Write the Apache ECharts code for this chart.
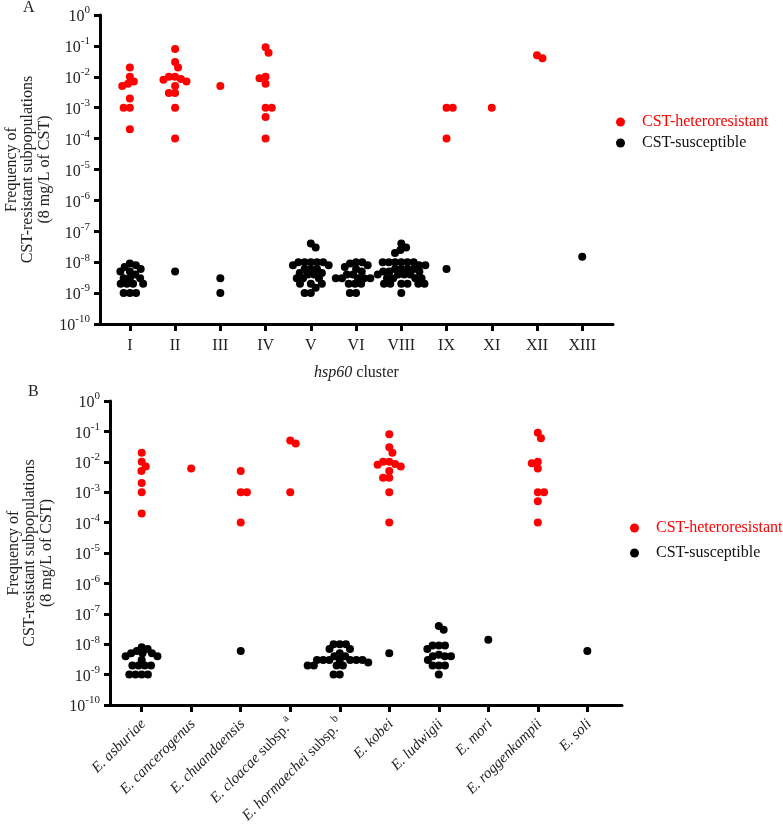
<!DOCTYPE html>
<html><head><meta charset="utf-8">
<script src="https://cdn.jsdelivr.net/npm/echarts@6/dist/echarts.min.js"></script>
<style>html,body{margin:0;padding:0;background:#fff}#c{width:783px;height:826px}</style>
</head><body><div id="c"></div>
<script>
// ---------- DATA ----------
const catsA = ['I','II','III','IV','V','VI','VIII','IX','XI','XII','XIII'];
const heteroA = [
  [0.02, 0.01, 0.007, 0.006, 0.005, 0.002, 0.001, 0.001, 0.0002],
  [0.08, 0.03, 0.02, 0.01, 0.01, 0.0085, 0.008, 0.007, 0.005, 0.003, 0.003, 0.001, 0.0001],
  [0.005],
  [0.09, 0.06, 0.01, 0.009, 0.006, 0.001, 0.001, 0.0005, 0.0001],
  [], [], [],
  [0.001, 0.001, 0.0001],
  [0.001],
  [0.05, 0.04],
  []
];
const susA = [
  [9e-9, 8e-9, 7e-9, 6e-9, 5e-9, 5e-9, 4e-9, 3e-9, 3e-9, 3e-9, 2e-9, 2e-9, 2e-9, 2e-9, 1e-9, 1e-9, 1e-9],
  [5e-9],
  [3e-9, 1e-9],
  [],
  [4e-8, 3e-8, 1e-8, 1e-8, 1e-8, 1e-8, 1e-8, 8e-9, 8e-9, 6e-9, 6e-9, 6e-9, 4.5e-9, 4.5e-9, 4e-9, 4e-9, 3e-9, 3e-9, 3e-9, 2e-9, 2e-9, 2e-9, 1.5e-9, 1e-9, 1e-9],
  [1e-8, 1e-8, 9e-9, 8e-9, 7e-9, 6e-9, 5e-9, 4e-9, 4e-9, 3e-9, 3e-9, 3e-9, 3e-9, 3e-9, 2e-9, 2e-9, 2e-9, 1e-9, 1e-9],
  [4e-8, 3e-8, 2.5e-8, 2e-8, 1e-8, 1e-8, 1e-8, 1e-8, 1e-8, 1e-8, 8e-9, 8e-9, 6e-9, 6e-9, 6e-9, 6e-9, 5e-9, 5e-9, 5e-9, 4e-9, 4e-9, 4e-9, 4e-9, 3e-9, 3e-9, 3e-9, 3e-9, 2e-9, 2e-9, 2e-9, 2e-9, 2e-9, 2e-9, 1e-9],
  [6e-9],
  [],
  [],
  [1.5e-8]
];

const catsB = ['E. asburiae','E. cancerogenus','E. chuandaensis','E. cloacae subsp.a','E. hormaechei subsp.b','E. kobei','E. ludwigii','E. mori','E. roggenkampii','E. soli'];
const heteroB = [
  [0.02, 0.01, 0.007, 0.005, 0.002, 0.001, 0.0002],
  [0.006],
  [0.005, 0.001, 0.001, 0.0001],
  [0.05, 0.04, 0.001],
  [],
  [0.08, 0.03, 0.02, 0.01, 0.01, 0.0085, 0.008, 0.007, 0.005, 0.003, 0.003, 0.001, 0.0001],
  [],
  [],
  [0.09, 0.06, 0.01, 0.009, 0.006, 0.001, 0.001, 0.0005, 0.0001],
  []
];
const susB = [
  [8e-9, 7e-9, 6e-9, 5e-9, 5e-9, 5e-9, 4e-9, 4e-9, 3e-9, 2e-9, 2e-9, 2e-9, 2e-9, 1e-9, 1e-9, 1e-9, 1e-9],
  [],
  [6e-9],
  [],
  [1e-8, 1e-8, 1e-8, 7e-9, 7e-9, 5e-9, 4e-9, 4e-9, 3e-9, 3e-9, 3e-9, 3e-9, 3e-9, 3e-9, 3e-9, 2.5e-9, 2e-9, 2e-9, 2e-9, 2e-9, 1e-9, 1e-9],
  [5e-9],
  [4e-8, 3e-8, 9e-9, 9e-9, 9e-9, 7e-9, 4.5e-9, 4e-9, 4e-9, 4e-9, 3e-9, 2e-9, 2e-9, 2e-9, 1e-9],
  [1.4e-8],
  [],
  [6e-9]
];
const seriesNames = ['CST-heteroresistant','CST-susceptible'];

// ---------- LAYOUT HELPERS ----------
const FONT = 'Liberation Serif, Times New Roman, serif';
// categories sit at positions 1..n on a value axis
// beeswarm: greedy placement closest to the category centre without overlapping (distance D px)
function swarm(groups, pxPerDecade, pxPerUnit) {
  const D = 6.2;
  const out = [];
  groups.forEach((vals, ci) => {
    const pts = vals.map(v => ({v, y: -Math.log10(v) * pxPerDecade})).sort((a,b)=>a.y-b.y);
    const placed = [];
    let flip = 1;
    pts.forEach(p => {
      const cands = [0];
      placed.forEach(q => {
        const dy = Math.abs(p.y - q.y);
        if (dy < D) { const h = Math.sqrt(D*D - dy*dy); cands.push(q.x + h, q.x - h); }
      });
      const ok = cands.filter(x => placed.every(q => (x-q.x)*(x-q.x) + (p.y-q.y)*(p.y-q.y) >= D*D - 1e-6));
      ok.sort((a,b) => (Math.abs(a) - Math.abs(b)) || (flip * (b - a)));
      p.x = ok[0];
      if (p.x !== 0) flip = -flip;
      placed.push(p);
    });
    placed.forEach(p => out.push([ci + 1 + p.x / pxPerUnit, p.v]));
  });
  return out;
}
function expLabel(v) {
  const e = Math.round(Math.log10(v));
  return '{b|10}{e|' + e + '}';
}
const yRich = {
  b: {fontFamily: FONT, fontSize: 16, color: '#222', lineHeight: 20, verticalAlign: 'bottom'},
  e: {fontFamily: FONT, fontSize: 11, color: '#222', lineHeight: 20, verticalAlign: 'top', padding:[0,0,8,0]}
};

const gA = {left: 100, top: 15, width: 513, height: 309};
const gB = {left: 110, top: 401, width: 512, height: 304};

function yAxis(gi, nameGap) {
  return {
    type: 'log', logBase: 10, gridIndex: gi, min: 1e-10, max: 1, position: 'left',
    splitNumber: 10, interval: 1,
    axisLine: {show: true, onZero: false, lineStyle: {color: '#000', width: 3}},
    axisTick: {show: true, length: 6, lineStyle: {color: '#000', width: 3}},
    axisLabel: {margin: 10, formatter: expLabel, rich: yRich},
    splitLine: {show: false},
    name: 'Frequency of\nCST-resistant subpopulations\n(8 mg/L of CST)',
    nameLocation: 'middle', nameGap: nameGap, nameRotate: 90, nameMoveOverlap: false,
    nameTextStyle: {fontFamily: FONT, fontSize: 16, color: '#222', lineHeight: 16.5}
  };
}
const posA = catsA.map((c,i)=>i+1);
const posB = catsB.map((c,i)=>i+1);

const option = {
  backgroundColor: '#fff',
  animation: false,
  grid: [
    Object.assign({outerBoundsMode: 'none', containLabel: false}, gA),
    Object.assign({outerBoundsMode: 'none', containLabel: false}, gB)
  ],
  xAxis: [
    {
      type: 'value', gridIndex: 0, min: 0.34, max: 11.68, position: 'bottom',
      axisLine: {show: true, onZero: false, lineStyle: {color: '#000', width: 3}},
      axisTick: {show: true, length: 7, customValues: posA, lineStyle: {color: '#000', width: 3}},
      axisLabel: {customValues: posA, margin: 14, formatter: v => catsA[Math.round(v) - 1],
        fontFamily: FONT, fontSize: 16, color: '#222'},
      splitLine: {show: false},
      name: '{i|hsp60} cluster', nameLocation: 'middle', nameGap: 41,
      nameTextStyle: {fontFamily: FONT, fontSize: 16, color: '#222',
        rich: {i: {fontFamily: FONT, fontSize: 16, fontStyle: 'italic', color: '#222'}}}
    },
    {
      type: 'value', gridIndex: 1, min: 0.36, max: 10.7, position: 'bottom',
      axisLine: {show: true, onZero: false, lineStyle: {color: '#000', width: 3}},
      axisTick: {show: true, length: 7, customValues: posB, lineStyle: {color: '#000', width: 3}},
      axisLabel: {customValues: posB, margin: 15, rotate: 45,
        formatter: v => {
          const c = catsB[Math.round(v) - 1];
          const m = c.match(/^(E\. \S+)( subsp\.)?([ab])?$/);
          let s = '{i|' + m[1] + '}';
          if (m[2]) s += '{n|' + m[2] + '}';
          if (m[3]) s += '{s|' + m[3] + '}';
          return s;
        },
        rich: {
          i: {fontFamily: FONT, fontSize: 15, fontStyle: 'italic', color: '#222', lineHeight: 20, verticalAlign: 'bottom'},
          n: {fontFamily: FONT, fontSize: 15, color: '#222', lineHeight: 20, verticalAlign: 'bottom'},
          s: {fontFamily: FONT, fontSize: 11, color: '#222', lineHeight: 20, verticalAlign: 'top', padding:[0,0,8,2]}
        }},
      splitLine: {show: false}
    }
  ],
  yAxis: [yAxis(0, 47), yAxis(1, 55)],
  legend: [
    {orient: 'vertical', left: 611, top: 109, icon: 'circle', itemWidth: 9, itemHeight: 9, itemGap: 5,
      textStyle: {fontFamily: FONT, fontSize: 16, padding: [0,0,0,12]},
      data: [{name: seriesNames[0], textStyle: {color: '#ff0000'}}, {name: seriesNames[1], textStyle: {color: '#111'}}]},
    {orient: 'vertical', left: 625, top: 515, icon: 'circle', itemWidth: 9, itemHeight: 9, itemGap: 9,
      textStyle: {fontFamily: FONT, fontSize: 16, padding: [0,0,0,12]},
      data: [{name: seriesNames[0], textStyle: {color: '#ff0000'}}, {name: seriesNames[1], textStyle: {color: '#111'}}]}
  ],
  graphic: [
    {type: 'text', left: 23, top: 0, style: {text: 'A', fontFamily: FONT, fontSize: 16, fill: '#222'}},
    {type: 'text', left: 28, top: 384, style: {text: 'B', fontFamily: FONT, fontSize: 16, fill: '#222'}}
  ],
  series: [
    {name: seriesNames[0], type: 'scatter', xAxisIndex: 0, yAxisIndex: 0, symbolSize: 8,
      itemStyle: {color: '#ff0000', opacity: 1}, data: swarm(heteroA, 30.9, 45.2)},
    {name: seriesNames[1], type: 'scatter', xAxisIndex: 0, yAxisIndex: 0, symbolSize: 8,
      itemStyle: {color: '#000', opacity: 1}, data: swarm(susA, 30.9, 45.2)},
    {name: seriesNames[0], type: 'scatter', xAxisIndex: 1, yAxisIndex: 1, symbolSize: 8,
      itemStyle: {color: '#ff0000', opacity: 1}, data: swarm(heteroB, 30.4, 49.5)},
    {name: seriesNames[1], type: 'scatter', xAxisIndex: 1, yAxisIndex: 1, symbolSize: 8,
      itemStyle: {color: '#000', opacity: 1}, data: swarm(susB, 30.4, 49.5)}
  ]
};
const chart = echarts.init(document.getElementById('c'), null, {renderer: 'canvas'});
chart.setOption(option);
</script>
</body></html>
